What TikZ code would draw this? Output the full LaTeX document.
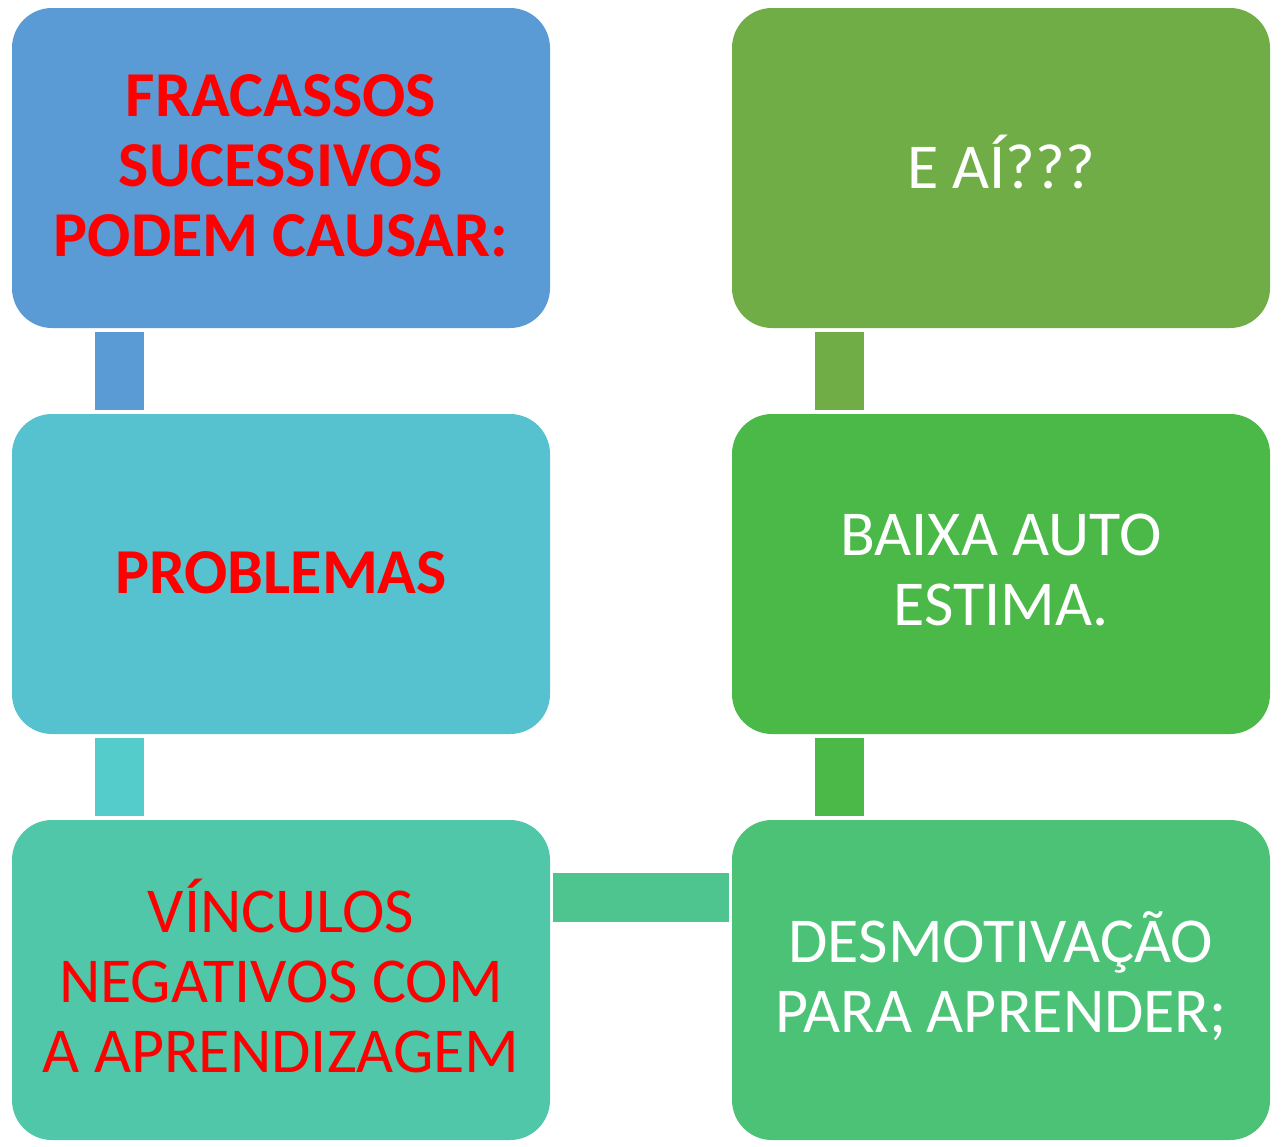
\documentclass[tikz,border=0pt]{standalone}
\usepackage{fontspec}
\setmainfont{Carlito}
\definecolor{cA}{HTML}{5B9BD5}
\definecolor{cB}{HTML}{56C2CF}
\definecolor{cC}{HTML}{50C7A8}
\definecolor{cD}{HTML}{4CC277}
\definecolor{cE}{HTML}{4BB948}
\definecolor{cF}{HTML}{71AD47}
\definecolor{cBC}{HTML}{55CCCC}
\definecolor{cCD}{HTML}{4EC58E}
\definecolor{txtred}{HTML}{FF0000}
\begin{document}
\begin{tikzpicture}[x=1pt,y=-1pt,
  box/.style={rounded corners=40pt, inner sep=0pt},
  txt/.style={align=center, font=\fontsize{64}{70}\selectfont},
  boldtxt/.style={align=center, font=\fontsize{64}{70}\selectfont\bfseries}]
\useasboundingbox[fill=white] (0,0) rectangle (1281,1146);
% connectors
\fill[cA] (95,332) rectangle (144,410);
\fill[cBC] (95,738) rectangle (144,816);
\fill[cCD] (553,873) rectangle (729,922);
\fill[cE] (815,738) rectangle (864,816);
\fill[cF] (815,332) rectangle (864,410);
% boxes
\fill[cA,box] (12,8) rectangle (550,328);
\fill[cB,box] (12,414) rectangle (550,734);
\fill[cC,box] (12,820) rectangle (550,1140);
\fill[cD,box] (732,820) rectangle (1270,1140);
\fill[cE,box] (732,414) rectangle (1270,734);
\fill[cF,box] (732,8) rectangle (1270,328);
% texts
\node[boldtxt, text=txtred] (t1) at (281,166) {FRACASSOS\\SUCESSIVOS\\PODEM CAUSAR:};
\node[boldtxt, text=txtred] (t2) at (281,573) {PROBLEMAS};
\node[txt, text=txtred] (t3) at (281,976) {VÍNCULOS\\NEGATIVOS COM\\A APRENDIZAGEM};
\node[txt, text=white] (t4) at (1001,976) {DESMOTIVAÇÃO\\PARA APRENDER;};
\node[txt, text=white] (t5) at (1001,570) {BAIXA AUTO\\ESTIMA.};
\node[txt, text=white] (t6) at (1001,162) {E AÍ???};
\end{tikzpicture}
\end{document}
